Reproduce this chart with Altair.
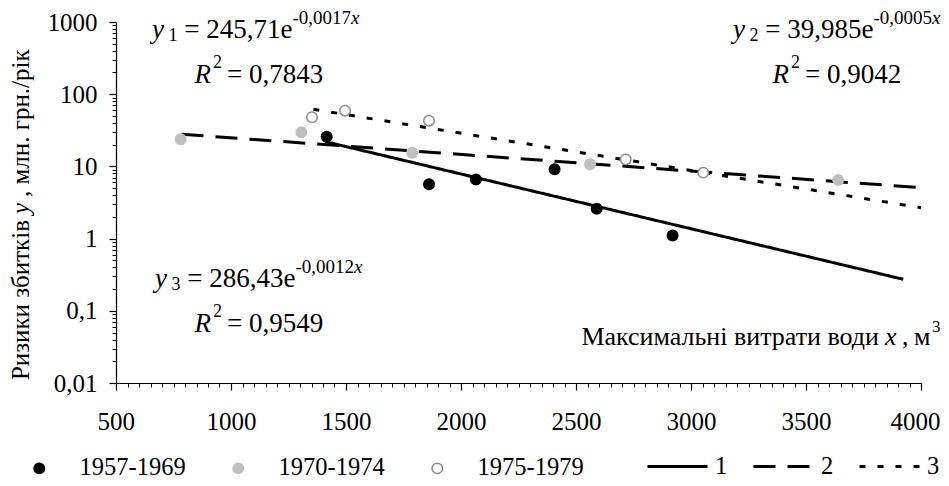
import altair as alt
import pandas as pd

# ---------------- data ----------------
series_names = ["1957-1969", "1970-1974", "1975-1979"]
s1_x = [1416, 1861, 2065, 2407, 2590, 2920]
s1_y = [25.8, 5.65, 6.6, 9.1, 2.6, 1.1]
s2_x = [781, 1306, 1788, 2561, 3640]
s2_y = [23.7, 29.7, 15.5, 10.7, 6.5]
s3_x = [1352, 1496, 1861, 2716, 3053]
s3_y = [47.9, 59.1, 43.0, 12.5, 8.2]

trend_names = ["1", "2", "3"]
t1_x = [1410, 3923]
t1_y = [22.0, 0.273]
t2_x = [785, 4000]
t2_y = [27.9, 5.07]
t3_x = [1358, 4000]
t3_y = [61.8, 2.68]

x_major = [500, 1000, 1500, 2000, 2500, 3000, 3500, 4000]
x_minor = list(range(500, 4001, 50))
y_major = [0.01, 0.1, 1, 10, 100, 1000]
y_minor = [round(k * 10.0 ** e, 4) for e in range(-2, 3) for k in range(2, 10)]

eq_sub = ["1", "2", "3"]
eq_main = ["= 245,71e", "= 39,985e", "= 286,43e"]
eq_exp = ["-0,0017", "-0,0005", "-0,0012"]
r2_vals = ["= 0,7843", "= 0,9042", "= 0,9549"]
x_title = ["Максимальні витрати води", "x", ",", "м", "3"]
y_title = ["Ризики збитків", "y", ", млн. грн./рік"]

# ---------------- tables ----------------
pts = pd.concat([
    pd.DataFrame({"x": s1_x, "y": s1_y, "series": series_names[0]}),
    pd.DataFrame({"x": s2_x, "y": s2_y, "series": series_names[1]}),
    pd.DataFrame({"x": s3_x, "y": s3_y, "series": series_names[2]}),
])
trend = pd.concat([
    pd.DataFrame({"x": t1_x, "y": t1_y, "trend": trend_names[0]}),
    pd.DataFrame({"x": t2_x, "y": t2_y, "trend": trend_names[1]}),
    pd.DataFrame({"x": t3_x, "y": t3_y, "trend": trend_names[2]}),
])

FONT = "Liberation Serif"
W, H = 805, 361
PL, PT = 108, 14  # padding; page margin 8 -> plot origin (116, 22)
OX, OY = PL + 8, PT + 8

xs = alt.Scale(domain=[500, 4000], nice=False, zero=False)
ys = alt.Scale(type="log", domain=[0.01, 1000], nice=False)

ax_x_major = alt.Axis(orient="bottom", values=x_major, format="d", title=None, grid=False,
                      tickSize=7, tickColor="black", tickWidth=1.2, domainColor="black", domainWidth=1.2,
                      labelFont=FONT, labelFontSize=25, labelColor="black", labelPadding=19,
                      labelFlush=True, labelFlushOffset=19, labelOverlap=False)
ax_y_major = alt.Axis(orient="left", values=y_major, title=None, grid=False,
                      labelExpr="replace(format(datum.value, '~g'), '.', ',')",
                      tickSize=7, tickColor="black", tickWidth=1.2, domainColor="black", domainWidth=1.2,
                      labelFont=FONT, labelFontSize=25, labelColor="black", labelPadding=12,
                      labelFlush=False, labelOverlap=False)
ax_x_minor = alt.Axis(orient="bottom", values=x_minor, title=None, grid=False, labels=False,
                      domain=False, tickSize=4, tickColor="black", tickWidth=1)
ax_y_minor = alt.Axis(orient="left", values=y_minor, title=None, grid=False, labels=False,
                      domain=False, tickSize=4, tickColor="black", tickWidth=1)

pt_legend = alt.Legend(orient="none", legendX=-89, legendY=434, direction="horizontal", title=None,
                       symbolType="circle", symbolSize=110, symbolStrokeWidth=1.5, symbolOpacity=1,
                       labelFont=FONT, labelFontSize=24.5, labelColor="black", labelOffset=28,
                       columnPadding=40, padding=0)
ln_legend = alt.Legend(orient="none", legendX=530, legendY=413, direction="horizontal", title=None,
                       symbolType="stroke", symbolSize=3600, symbolStrokeWidth=3,
                       symbolStrokeColor="black", symbolOpacity=1,
                       labelFont=FONT, labelFontSize=24.5, labelColor="black", labelOffset=6,
                       columnPadding=19, padding=0)

lines = alt.Chart(trend).mark_line(strokeWidth=3, color="black").encode(
    x=alt.X("x:Q", scale=xs, axis=ax_x_minor),
    y=alt.Y("y:Q", scale=ys, axis=ax_y_minor),
    strokeDash=alt.StrokeDash("trend:N", scale=alt.Scale(domain=trend_names,
                              range=[[1, 0], [22, 12], [6, 12]]), legend=ln_legend),
)

points = alt.Chart(pts).mark_point(size=110, strokeWidth=1.5, opacity=1, filled=False).encode(
    x=alt.X("x:Q", scale=xs, axis=ax_x_major),
    y=alt.Y("y:Q", scale=ys, axis=ax_y_major),
    color=alt.Color("series:N", scale=alt.Scale(domain=series_names,
                    range=["black", "#bfbfbf", "#8c8c8c"]), legend=pt_legend),
    fill=alt.Fill("series:N", scale=alt.Scale(domain=series_names,
                  range=["black", "#bfbfbf", "white"]), legend=pt_legend),
)

# ---------------- text annotations ----------------
MET = {",": 250, ".": 250, "=": 564, "e": 444, " ": 250, "-": 333, "y": 444, "x": 444, "R": 611}
one = pd.DataFrame({"a": [0]})
texts = []


def txt(t, x, y, size, italic=False, align="left", angle=0):
    props = dict(text=t, font=FONT, fontSize=size, align=align, baseline="alphabetic", color="black")
    if italic:
        props["fontStyle"] = "italic"
    if angle:
        props["angle"] = angle
    texts.append(alt.Chart(one).mark_text(**props).encode(x=alt.value(x - OX), y=alt.value(y - OY)))


def width(s, size):
    return sum(MET.get(c, 500) for c in s) / 1000.0 * size


def runs(x, base, items):
    # items: (text, italic, size, dy, gap_before)
    for t, it, size, dy, gap in items:
        x += gap
        txt(t, x, base + dy, size, it)
        x += width(t, size)


BIG, SUB, EXP = 27, 18, 19
eq_pos = [(152, 38, 194.5, 83), (733, 38, 772.5, 83), (155, 287, 194.5, 332)]
for i, (ex, eb, rx, rb) in enumerate(eq_pos):
    runs(ex, eb, [("y", True, BIG, 0, 0), (eq_sub[i], False, SUB, 3, 4.5),
                  (eq_main[i], False, BIG, 0, 6.75), (eq_exp[i], False, EXP, -14, 0),
                  ("x", True, EXP, -14, 0)])
    runs(rx, rb, [("R", True, BIG, 0, 0), ("2", False, SUB, -15, 2),
                  (r2_vals[i], False, BIG, 0, 5)])

# x axis title (inside the plot, lower right)
XB = 345
txt(x_title[0], 879, XB, 26, align="right")
txt(x_title[1], 885, XB, 26, italic=True)
txt(x_title[2], 902, XB, 26)
txt(x_title[3], 914, XB, 26)
txt(x_title[4], 932, XB - 13, 17)

# y axis title (rotated)
YA, YX = 214, 29
txt(y_title[0], YX, YA + 6, 25, align="right", angle=270)
txt(y_title[1], YX, YA, 25, italic=True, angle=270)
txt(y_title[2], YX, YA - 11 - 6, 25, angle=270)

chart = alt.layer(lines, points, *texts).resolve_axis(
    x="independent", y="independent"
).properties(
    width=W, height=H,
    autosize=alt.AutoSizeParams(type="none"),
    padding={"left": PL, "top": PT, "right": 20, "bottom": 95},
    background="white",
).configure_view(stroke=None).configure_text(font=FONT).configure_axis(
    labelFont=FONT).configure_legend(labelFont=FONT)

chart.save("out.html", embed_options={"renderer": "svg", "actions": False})
